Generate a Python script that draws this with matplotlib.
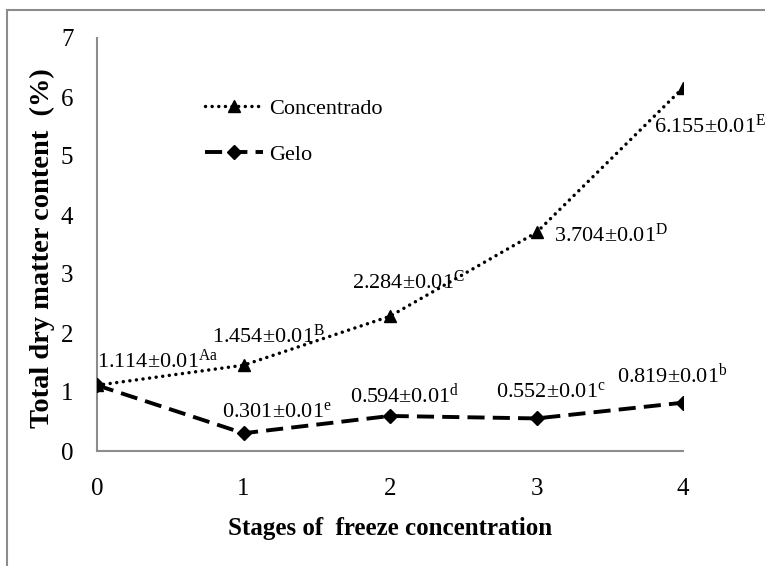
import numpy as np
import matplotlib
matplotlib.use("Agg")
import matplotlib.pyplot as plt
from matplotlib.patches import Rectangle

plt.rcParams['font.family'] = ['Liberation Serif', 'DejaVu Serif']
plt.rcParams['mathtext.fontset'] = 'custom'
plt.rcParams['mathtext.rm'] = 'Liberation Serif'
plt.rcParams['mathtext.it'] = 'Liberation Serif:italic'
plt.rcParams['mathtext.bf'] = 'Liberation Serif:bold'

""" Define data """
stages = [0, 1, 2, 3, 4]
concentrado = [1.114, 1.454, 2.284, 3.704, 6.155]
gelo = [1.114, 0.301, 0.594, 0.552, 0.819]
conc_letters = ['Aa', 'B', 'C', 'D', 'E']
gelo_letters = [None, 'e', 'd', 'c', 'b']
sd = 0.01

# label offsets in pixels (dx, dy) from each point, baseline anchored
conc_offsets = [(0, 17), (-31, 22), (-38, 27), (18, -9), (-29, -45)]
gelo_offsets = [None, (-22, 16), (-40, 13), (-40, 21), (-66, 20)]

fig = plt.figure(figsize=(7.65, 5.66), dpi=100)
ax = fig.add_axes([97 / 765, 1 - 451 / 566, (683 - 97) / 765, (451 - 38) / 566])

ax.plot(stages, concentrado, color='black', lw=2.5, linestyle=(0, (0.01, 1.9)),
        dash_capstyle='round', marker='^', markersize=9, label='Concentrado', zorder=3)
ax.plot(stages, gelo, color='black', lw=2.8, linestyle=(0, (4.4, 2.1)),
        marker='D', markersize=7.5, label='Gelo', zorder=3)

def fmt(v, sup):
    return '%.3f±%.2f$^{\\mathrm{%s}}$' % (v, sd, sup)

for x, v, sup, off in zip(stages, concentrado, conc_letters, conc_offsets):
    ax.annotate(fmt(v, sup), xy=(x, v), xytext=off, textcoords='offset pixels',
                ha='left', va='baseline', fontsize=16, annotation_clip=False, zorder=4)
for x, v, sup, off in zip(stages, gelo, gelo_letters, gelo_offsets):
    if sup is None:
        continue
    ax.annotate(fmt(v, sup), xy=(x, v), xytext=off, textcoords='offset pixels',
                ha='left', va='baseline', fontsize=16, annotation_clip=False, zorder=4)

ax.set_xlim(0, 4)
ax.set_ylim(0, 7)
ax.set_xticks(stages)
ax.set_yticks(np.arange(0, 8, 1))
ax.tick_params(length=0, labelsize=18)
ax.tick_params(axis='y', pad=17)
ax.tick_params(axis='x', pad=19.5)
for s in ['top', 'right']:
    ax.spines[s].set_visible(False)
for s in ['left', 'bottom']:
    ax.spines[s].set_color('#8c8c8c')
    ax.spines[s].set_linewidth(1.5)

ax.set_xlabel('Stages of  freeze concentration', fontsize=18, fontweight='bold')
ax.set_ylabel('Total dry matter content  (%)', fontsize=20.5, fontweight='bold')
ax.xaxis.set_label_coords(0.5, (451 - 528) / 413)
ax.xaxis.label.set_va('center')
ax.yaxis.set_label_coords((42 - 97) / 586, (451 - 248) / 413)
ax.yaxis.label.set_va('center')

leg = ax.legend(loc='upper left', bbox_to_anchor=((205 - 97) / 586, (451 - 98) / 413),
                frameon=False, fontsize=16, handlelength=2.6, handletextpad=0.3,
                labelspacing=1.15, numpoints=1, borderpad=0, borderaxespad=0)

fig.patches.append(Rectangle((7 / 765, -0.1), 1.2, 1 - 10 / 566 + 0.1,
                             transform=fig.transFigure, fill=False,
                             edgecolor='#8c8c8c', lw=1.5, clip_on=False))

plt.savefig('out.png', dpi=100)
